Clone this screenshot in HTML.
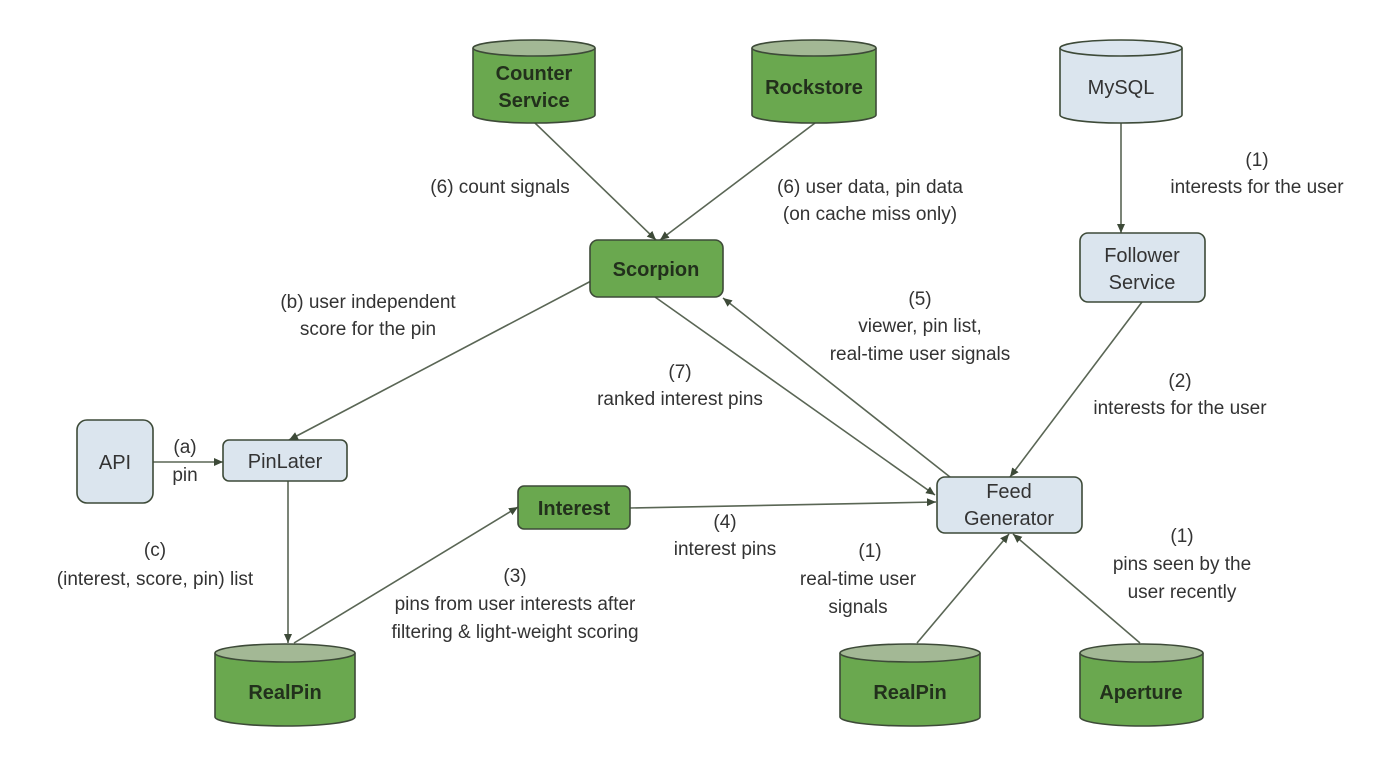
<!DOCTYPE html>
<html><head><meta charset="utf-8"><style>
body{margin:0;background:#fff}
svg{display:block}
text{font-family:"Liberation Sans",sans-serif;font-size:19px;fill:#333;text-anchor:middle}
.n{font-size:20px;fill:#22301c;font-weight:bold}
.b{font-size:20px;fill:#333}
</style></head><body>
<svg width="1400" height="781" viewBox="0 0 1400 781">
<defs>
<marker id="a" markerWidth="10" markerHeight="10" refX="9" refY="5" orient="auto" markerUnits="userSpaceOnUse"><path d="M0,1 L9,5 L0,9 z" fill="#3d4a38"/></marker>
</defs>
<g stroke="#5a6655" stroke-width="1.6" fill="none" marker-end="url(#a)">
<line x1="535" y1="123" x2="656" y2="240"/>
<line x1="815" y1="123" x2="660" y2="240"/>
<line x1="1121" y1="123" x2="1121" y2="233"/>
<line x1="593" y1="280" x2="289" y2="440"/>
<line x1="655" y1="297" x2="935" y2="495"/>
<line x1="950" y1="477" x2="723" y2="298"/>
<line x1="1142" y1="302" x2="1010" y2="477"/>
<line x1="153" y1="462" x2="223" y2="462"/>
<line x1="288" y1="481" x2="288" y2="643"/>
<line x1="294" y1="643" x2="518" y2="507"/>
<line x1="630" y1="508" x2="936" y2="502"/>
<line x1="917" y1="643" x2="1009" y2="534"/>
<line x1="1140" y1="643" x2="1013" y2="534"/>
</g>
<g stroke="#3d4a38" stroke-width="1.6">
<path d="M473,48 v67 a61,8 0 0 0 122,0 v-67" fill="#6aa84f"/><ellipse cx="534" cy="48" rx="61" ry="8" fill="#a3b895"/>
<path d="M752,48 v67 a62,8 0 0 0 124,0 v-67" fill="#6aa84f"/><ellipse cx="814" cy="48" rx="62" ry="8" fill="#a3b895"/>
<path d="M1060,48 v67 a61,8 0 0 0 122,0 v-67" fill="#dbe5ee"/><ellipse cx="1121" cy="48" rx="61" ry="8" fill="#dbe5ee"/>
<path d="M215,653 v64 a70,9 0 0 0 140,0 v-64" fill="#6aa84f"/><ellipse cx="285" cy="653" rx="70" ry="9" fill="#a3b895"/>
<path d="M840,653 v64 a70,9 0 0 0 140,0 v-64" fill="#6aa84f"/><ellipse cx="910" cy="653" rx="70" ry="9" fill="#a3b895"/>
<path d="M1080,653 v64 a61.5,9 0 0 0 123,0 v-64" fill="#6aa84f"/><ellipse cx="1141.5" cy="653" rx="61.5" ry="9" fill="#a3b895"/>
<rect x="590" y="240" width="133" height="57" rx="8" fill="#6aa84f"/>
<rect x="1080" y="233" width="125" height="69" rx="8" fill="#dbe5ee"/>
<rect x="77" y="420" width="76" height="83" rx="10" fill="#dbe5ee"/>
<rect x="223" y="440" width="124" height="41" rx="6" fill="#dbe5ee"/>
<rect x="518" y="486" width="112" height="43" rx="6" fill="#6aa84f"/>
<rect x="937" y="477" width="145" height="56" rx="8" fill="#dbe5ee"/>
</g>
<text class="n" x="534" y="80">Counter</text><text class="n" x="534" y="107">Service</text>
<text class="n" x="814" y="94">Rockstore</text>
<text class="b" x="1121" y="94">MySQL</text>
<text class="n" x="656" y="276">Scorpion</text>
<text class="b" x="1142" y="262">Follower</text><text class="b" x="1142" y="289">Service</text>
<text class="b" x="115" y="469">API</text>
<text class="b" x="285" y="468">PinLater</text>
<text class="n" x="574" y="515">Interest</text>
<text class="b" x="1009" y="498">Feed</text><text class="b" x="1009" y="525">Generator</text>
<text class="n" x="285" y="699">RealPin</text>
<text class="n" x="910" y="699">RealPin</text>
<text class="n" x="1141" y="699">Aperture</text>
<text x="500" y="193">(6) count signals</text>
<text x="870" y="193">(6) user data, pin data</text><text x="870" y="220">(on cache miss only)</text>
<text x="1257" y="166">(1)</text><text x="1257" y="193">interests for the user</text>
<text x="368" y="308">(b) user independent</text><text x="368" y="335">score for the pin</text>
<text x="920" y="305">(5)</text><text x="920" y="332">viewer, pin list,</text><text x="920" y="360">real-time user signals</text>
<text x="680" y="378">(7)</text><text x="680" y="405">ranked interest pins</text>
<text x="1180" y="387">(2)</text><text x="1180" y="414">interests for the user</text>
<text x="185" y="453">(a)</text><text x="185" y="481">pin</text>
<text x="155" y="556">(c)</text><text x="155" y="585">(interest, score, pin) list</text>
<text x="725" y="528">(4)</text><text x="725" y="555">interest pins</text>
<text x="870" y="557">(1)</text><text x="858" y="585">real-time user</text><text x="858" y="613">signals</text>
<text x="1182" y="542">(1)</text><text x="1182" y="570">pins seen by the</text><text x="1182" y="598">user recently</text>
<text x="515" y="582">(3)</text><text x="515" y="610">pins from user interests after</text><text x="515" y="638">filtering &amp; light-weight scoring</text>
</svg>
</body></html>
